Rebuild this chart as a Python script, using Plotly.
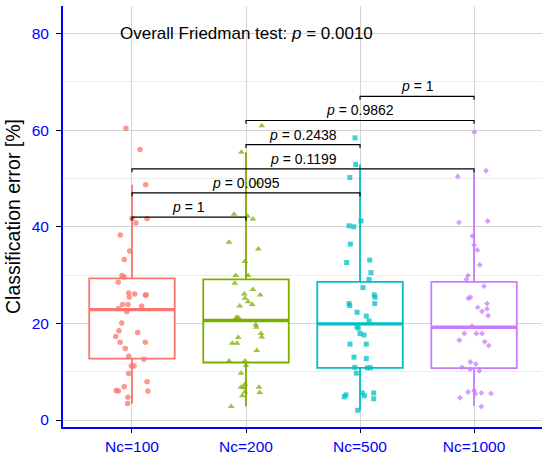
import plotly.graph_objects as go

categories = ["Nc=100", "Nc=200", "Nc=500", "Nc=1000"]
colors = ["#F8766D", "#7CAE00", "#00BFC4", "#C77CFF"]
symbols = ["circle", "triangle-up", "square", "diamond"]
msizes = [5.5, 6, 5, 4.5]

# classification error values (%) per group
v100 = [60.4, 56.0, 48.7, 41.7, 40.8, 41.7, 38.3, 35.0, 33.2, 29.9, 29.6, 28.5, 26.3, 26.1, 25.4,
        25.9, 25.9, 23.9, 23.9, 23.6, 23.1, 22.4, 20.1, 18.5, 18.1, 17.3, 16.1, 16.1, 14.8, 13.2,
        12.6, 11.2, 11.2, 9.6, 7.9, 6.9, 6.1, 6.0, 6.0, 4.7, 3.4]
v200 = [60.9, 55.4, 49.1, 42.6, 42.2, 41.6, 36.8, 35.4, 32.8, 29.9, 29.9, 28.3, 27.0, 26.1, 25.9,
        25.2, 24.5, 23.9, 23.6, 21.2, 21.2, 19.7, 19.2, 17.9, 17.2, 17.1, 15.9, 15.9, 14.4, 12.2,
        12.2, 11.3, 9.7, 7.4, 6.8, 6.7, 6.8, 5.7, 5.8, 5.0, 2.8]
v500 = [58.4, 52.9, 50.2, 41.2, 40.2, 40.0, 36.4, 33.1, 32.6, 30.5, 29.1, 27.4, 25.9, 25.4, 24.1,
        24.1, 23.7, 22.3, 21.5, 20.5, 19.3, 19.0, 17.9, 17.6, 15.7, 15.7, 13.0, 12.7, 10.9, 10.8,
        10.8, 9.7, 5.2, 4.8, 5.6, 5.0, 5.6, 4.4, 2.0]
v1000 = [59.6, 51.6, 50.4, 40.9, 41.2, 38.1, 36.2, 35.2, 32.1, 29.9, 29.1, 27.7, 25.4, 25.2, 24.1,
         23.3, 23.0, 22.5, 21.6, 19.4, 17.9, 17.9, 17.9, 16.5, 16.2, 15.4, 12.0, 11.6, 10.9, 10.5,
         10.2, 5.8, 6.1, 5.4, 5.6, 5.5, 4.6, 2.8]

# horizontal jitter (in category units)
j100 = [-0.053, 0.070, 0.120, 0.0, 0.035, 0.132, -0.103, -0.020, -0.068, -0.088, -0.068, -0.120,
        -0.029, 0.024, -0.024, 0.117, 0.125, -0.082, -0.035, 0.085, -0.117, -0.046, -0.090, -0.114,
        0.050, -0.143, -0.105, 0.117, -0.059, -0.029, 0.105, -0.006, 0.018, -0.029, 0.132, -0.068,
        -0.138, -0.120, 0.140, -0.035, -0.038]
j200 = [0.138, -0.041, 0.105, -0.105, 0.015, 0.061, -0.149, 0.108, -0.009, -0.090, 0.018, -0.099,
        0.061, -0.015, 0.125, -0.009, 0.018, 0.055, -0.055, -0.085, -0.068, 0.085, 0.090, 0.132,
        0.138, -0.068, -0.120, -0.079, 0.094, -0.149, -0.009, 0.0, -0.044, -0.009, -0.044, -0.020,
        0.114, 0.120, -0.009, -0.032, -0.129]
j500 = [-0.044, -0.038, -0.090, 0.009, -0.096, -0.055, -0.085, 0.085, -0.117, 0.096, 0.079, 0.026,
        0.125, 0.132, 0.129, -0.096, -0.090, -0.026, 0.055, 0.079, -0.026, -0.015, 0.0, 0.035,
        -0.088, 0.055, -0.053, 0.055, -0.046, 0.064, 0.090, -0.032, -0.123, -0.138, 0.020, 0.038,
        0.120, 0.120, -0.020]
j1000 = [0.003, 0.105, -0.143, -0.132, 0.120, -0.015, 0.0, 0.029, 0.050, -0.053, -0.068, 0.088,
         -0.032, -0.050, 0.114, 0.032, 0.114, 0.070, 0.123, -0.018, -0.085, 0.020, 0.070, -0.129,
         0.094, 0.129, -0.032, 0.015, -0.105, -0.035, 0.046, -0.053, 0.0, 0.011, 0.064, 0.149,
         -0.123, 0.064]

# box statistics
q1 = [12.7, 11.9, 10.8, 10.75]
median = [22.85, 20.6, 19.9, 19.2]
q3 = [29.3, 29.1, 28.6, 28.6]
lowerfence = [3.4, 2.8, 2.0, 2.9]
upperfence = [48.7, 55.4, 52.9, 51.6]

# pairwise comparisons
pair_a = [0, 0, 0, 1, 1, 2]
pair_b = [1, 2, 3, 2, 3, 3]
pair_y = [42, 47, 52, 57, 62, 67]
pair_p = ["1", "0.0095", "0.1199", "0.2438", "0.9862", "1"]
overall_p = "0.0010"

values = [v100, v200, v500, v1000]
jitters = [j100, j200, j500, j1000]

FONT = "Liberation Sans, Arial, sans-serif"
BOXW = 0.75
TIP = 0.7

fig = go.Figure()

for i in range(4):
    fig.add_trace(go.Box(
        x=[i], q1=[q1[i]], median=[median[i]], q3=[q3[i]],
        lowerfence=[lowerfence[i]], upperfence=[upperfence[i]],
        width=BOXW, whiskerwidth=0, fillcolor="white",
        line=dict(color=colors[i], width=1.8), boxpoints=False,
        showlegend=False, hoverinfo="skip"))

for i in range(4):
    fig.add_trace(go.Scatter(
        x=[i - BOXW / 2, i + BOXW / 2], y=[median[i], median[i]], mode="lines",
        line=dict(color=colors[i], width=3.4), showlegend=False, hoverinfo="skip"))

for i in range(4):
    fig.add_trace(go.Scatter(
        x=[i + d for d in jitters[i]], y=values[i], mode="markers",
        marker=dict(symbol=symbols[i], size=msizes[i], color=colors[i], opacity=0.75,
                    line=dict(width=0)),
        showlegend=False))

annotations = []
for a, b, y, p in zip(pair_a, pair_b, pair_y, pair_p):
    fig.add_trace(go.Scatter(
        x=[a, a, b, b], y=[y - TIP, y, y, y - TIP], mode="lines",
        line=dict(color="black", width=1.2), showlegend=False, hoverinfo="skip"))
    annotations.append(dict(
        x=(a + b) / 2, y=y, xref="x", yref="y", text=f"<i>p</i> = {p}",
        showarrow=False, yanchor="bottom", yshift=0,
        font=dict(family=FONT, size=14, color="black")))

annotations.append(dict(
    x=1, y=80, xref="x", yref="y", text=f"Overall Friedman test: <i>p</i> = {overall_p}",
    showarrow=False, xanchor="center", yanchor="middle",
    font=dict(family=FONT, size=17, color="black")))

fig.update_layout(
    width=550, height=460,
    margin=dict(l=63, r=8, t=6, b=33),
    paper_bgcolor="white", plot_bgcolor="white",
    font=dict(family=FONT),
    annotations=annotations,
    xaxis=dict(
        range=[-0.605, 3.596], tickvals=[0, 1, 2, 3], ticktext=categories,
        showgrid=True, gridcolor="#d4d4d4", gridwidth=1, zeroline=False,
        showline=True, linecolor="#0000FF", linewidth=2,
        ticks="outside", ticklen=4, tickwidth=1.2, tickcolor="black",
        tickfont=dict(family=FONT, size=15.5, color="#0000FF")),
    yaxis=dict(
        range=[-1.45, 85.7], tick0=0, dtick=20,
        showgrid=True, gridcolor="#d4d4d4", gridwidth=1, zeroline=False,
        minor=dict(dtick=10, showgrid=True, gridcolor="#ececec", gridwidth=1, ticks=""),
        showline=True, linecolor="#0000FF", linewidth=2,
        ticks="outside", ticklen=5, tickwidth=1.2, tickcolor="black",
        ticklabelstandoff=4,
        tickfont=dict(family=FONT, size=15.5, color="#0000FF"),
        title=dict(text="Classification error [%]", standoff=6,
                   font=dict(family=FONT, size=19.5, color="black"))),
)

fig.write_html("out.html", config={"displayModeBar": False},
               post_script="document.body.style.margin='0';document.body.style.overflow='hidden';")
